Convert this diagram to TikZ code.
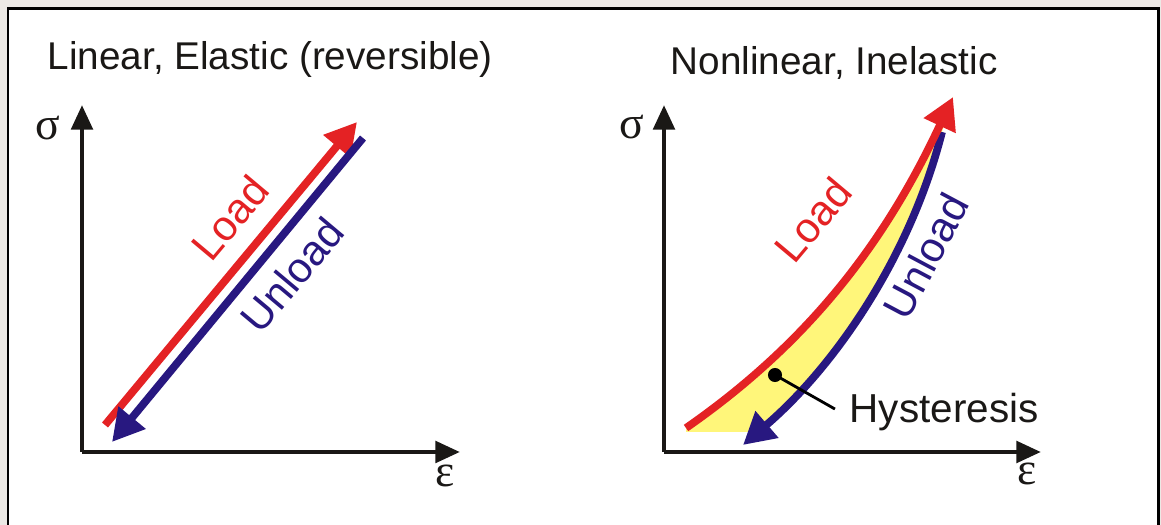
\documentclass[tikz,border=0pt]{standalone}
\usepackage{fontspec}
\setmainfont{Liberation Sans}
\newfontfamily\greekfont{Liberation Serif}
\usetikzlibrary{arrows.meta}

\definecolor{loadred}{RGB}{228,34,36}
\definecolor{unloadblue}{RGB}{40,24,128}
\definecolor{hystyellow}{RGB}{255,246,122}
\definecolor{pagegray}{RGB}{236,233,229}
\definecolor{axisblack}{RGB}{26,24,22}

\begin{document}
\begin{tikzpicture}[
      x=0.01cm, y=-0.01cm,
      axis/.style={draw=axisblack, line width=1.4pt, -{Triangle[length=7pt,width=6pt]}},
      loadline/.style={draw=loadred, line width=2.2pt, -{Triangle[length=9pt,width=9.5pt]}},
      unloadline/.style={draw=unloadblue, line width=2.2pt, -{Triangle[length=9pt,width=9.5pt]}},
      plottitle/.style={font=\fontsize{11}{13}\selectfont, text=axisblack, inner sep=0pt},
      loadlab/.style={font=\fontsize{12}{14}\selectfont, text=loadred},
      unloadlab/.style={font=\fontsize{12}{14}\selectfont, text=unloadblue},
      symb/.style={font=\greekfont\fontsize{13}{15}\selectfont, text=axisblack},
      hystlab/.style={font=\fontsize{11.5}{14}\selectfont, text=axisblack}
    ]

    \path[use as bounding box] (0,0) rectangle (1161,525);
    \clip (0,0) rectangle (1161,525);

    % Page and frame
    \fill[pagegray] (0,0) rectangle (1161,525);
    \filldraw[fill=white, draw=black, line width=0.85pt] (8,9) rectangle (1158,560);

    % Titles
    \node[plottitle, anchor=base west] (ltitle) at (47,70) {Linear, Elastic (reversible)};
    \node[plottitle, anchor=base west] (rtitle) at (670,75) {Nonlinear, Inelastic};

    % Left plot: axes
    \coordinate (lorig) at (82,452);
    \coordinate (lxend) at (460,452);
    \coordinate (lyend) at (82,105);
    \draw[axis] (lorig) -- (lxend);
    \draw[axis] (lorig) -- (lyend);
    \node[symb] (lsig) at (48,128) {σ};
    \node[symb] (leps) at (445,476) {ε};

    % Left plot: load and unload lines
    \coordinate (lload0) at (105,425);
    \coordinate (lload1) at (357,122);
    \coordinate (lunl0) at (363,138);
    \coordinate (lunl1) at (112,442);
    \draw[loadline] (lload0) -- (lload1);
    \draw[unloadline] (lunl0) -- (lunl1);
    \node[loadlab, rotate=50] (lload) at (230,218) {Load};
    \node[unloadlab, rotate=50] (lunload) at (292,275) {Unload};

    % Right plot: axes
    \coordinate (rorig) at (664,452);
    \coordinate (rxend) at (1041,452);
    \coordinate (ryend) at (664,105);
    \draw[axis] (rorig) -- (rxend);
    \draw[axis] (rorig) -- (ryend);
    \node[symb] (rsig) at (632,127) {σ};
    \node[symb] (reps) at (1027,474) {ε};

    % Right plot: hysteresis loop
    \coordinate (rload0) at (686,428);
    \coordinate (rload1) at (953,97);
    \coordinate (runl0) at (942,132);
    \coordinate (runl1) at (743,445);
    \begin{scope}
      \clip (640,90) rectangle (1000,432);
      \fill[hystyellow] (rload0) .. controls (817,337) and (890,232) .. (rload1)
        -- (runl0) .. controls (910,258) and (834,367) .. (runl1)
        -- (686,445) -- cycle;
    \end{scope}
    \draw[unloadline] (runl0) .. controls (910,258) and (834,367) .. (runl1);
    \draw[loadline] (rload0) .. controls (817,337) and (890,232) .. (rload1);
    \node[loadlab, rotate=50] (rload) at (813,220) {Load};
    \node[unloadlab, rotate=62] (runload) at (926,256) {Unload};

    % Hysteresis marker
    \coordinate (hdot) at (775,375);
    \fill[black] (hdot) circle[radius=2pt];
    \node[hystlab, anchor=base west, inner sep=0pt] (hyst) at (849,423) {Hysteresis};
    \draw[black, line width=0.8pt] (hdot) -- ([xshift=-4pt,yshift=1pt]hyst.west);

  \end{tikzpicture}
\end{document}
